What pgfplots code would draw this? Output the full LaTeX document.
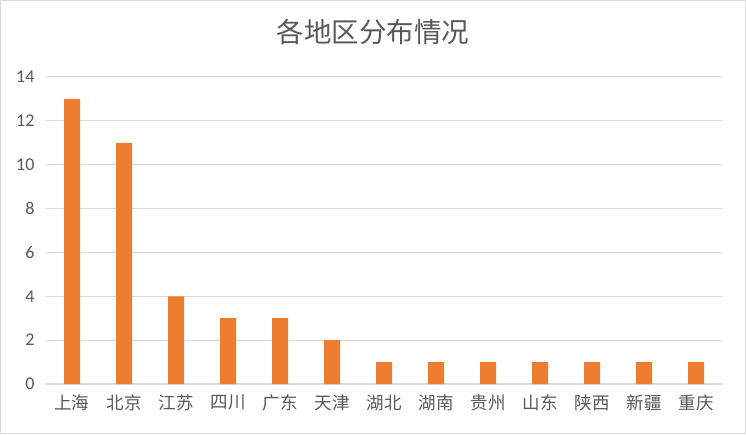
\documentclass[border=0pt]{standalone}
\usepackage{pgfplots}
\pgfplotsset{compat=1.18}
\usepackage{fontspec}
\setmainfont{Carlito}
\newfontfamily\cjk{Noto Sans CJK SC}
\definecolor{barorange}{HTML}{ED7D31}
\definecolor{gridgray}{HTML}{D9D9D9}
\definecolor{txtgray}{HTML}{595959}
\begin{document}
\begin{tikzpicture}[x=1pt,y=1pt]
\fill[white] (0,0) rectangle (746,434);
\draw[gridgray,line width=1.2pt] (0.6,0.6) rectangle (745.4,433.4);
\node[text=txtgray,font=\cjk\fontsize{27.5}{32}\selectfont] at (373,402) {各地区分布情况};
\begin{axis}[
  at={(46pt,50pt)}, anchor=south west,
  scale only axis, width=676pt, height=307pt,
  ymin=0, ymax=14, ytick={0,2,...,14},
  xmin=-0.5, xmax=12.5,
  xtick=data,
  xticklabels={上海,北京,江苏,四川,广东,天津,湖北,湖南,贵州,山东,陕西,新疆,重庆},
  x tick label style={font=\cjk\fontsize{17.5}{20}\selectfont, text=txtgray, yshift=-7pt},
  y tick label style={font=\fontsize{18}{21}\selectfont, text=txtgray},
  /pgf/number format/assume math mode=true,
  ymajorgrids, grid style={gridgray, line width=1pt},
  axis lines=left,
  x axis line style={gridgray, line width=1.2pt, -},
  y axis line style={draw=none},
  major tick length=0pt,
  ytick style={draw=none}, xtick style={draw=none},
  yticklabel style={xshift=-8pt},
  ybar, bar width=16pt,
  clip=false,
]
\addplot[fill=barorange, draw=none] coordinates {
(0,13) (1,11) (2,4) (3,3) (4,3) (5,2) (6,1) (7,1) (8,1) (9,1) (10,1) (11,1) (12,1)};
\end{axis}
\end{tikzpicture}
\end{document}
